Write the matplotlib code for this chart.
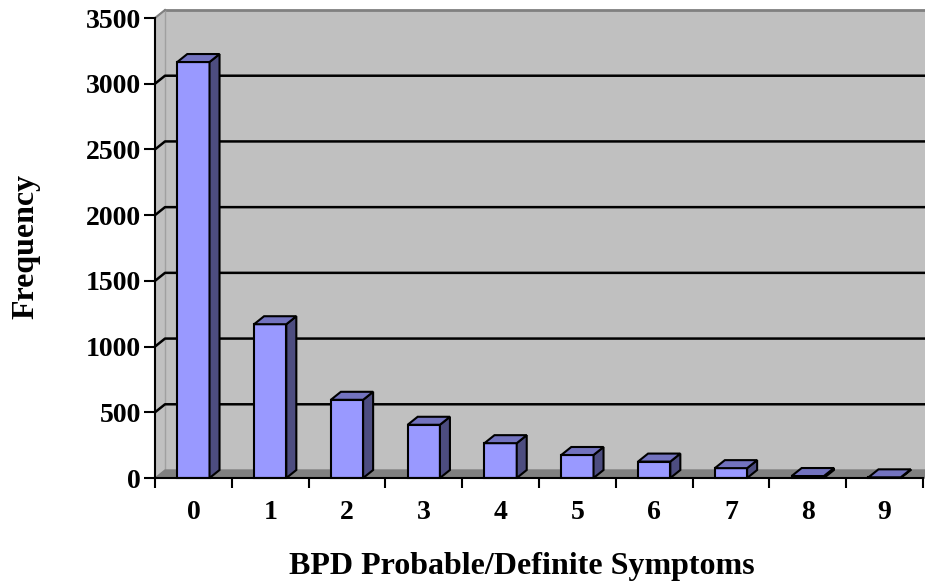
import numpy as np
import matplotlib.pyplot as plt

# ============ DADOS ============
categorias = ['0', '1', '2', '3', '4', '5', '6', '7', '8', '9']
frequencias = [3165, 1170, 595, 405, 265, 175, 125, 75, 15, 5]
yticks = [0, 500, 1000, 1500, 2000, 2500, 3000, 3500]

plt.rcParams['font.family'] = ['Liberation Serif', 'DejaVu Serif']
plt.rcParams['font.weight'] = 'bold'

fig = plt.figure(figsize=(9.25, 5.83), dpi=100)
W, H = 925, 583
x0, x1 = 155, 923
y0, y1 = 478, 18
ax = fig.add_axes([x0 / W, (H - y0) / H, (x1 - x0) / W, (y0 - y1) / H])
ax.set_xlim(0, 10)
ax.set_ylim(0, 3500)

# profundidade (efeito 3D) em unidades de dados
DX = 10 / ((x1 - x0) / 10)
DY = 8 * 3500 / (y0 - y1)

# parede de fundo
wall_top = 3500 + DY
ax.fill([DX, 10 + DX + 0.2, 10 + DX + 0.2, DX], [DY, DY, wall_top, wall_top],
        color='#C0C0C0', zorder=0, clip_on=False)
ax.plot([DX, 10 + DX + 0.2], [wall_top, wall_top], color='#808080', lw=2, zorder=1, clip_on=False)
# parede lateral
ax.fill([0, DX, DX, 0], [0, DY, wall_top, 3500], color='#C0C0C0', zorder=0, clip_on=False)
ax.plot([DX, DX], [DY, wall_top], color='#A0A0A0', lw=1, zorder=1, clip_on=False)
ax.plot([0, DX], [3500, wall_top], color='#808080', lw=1.5, zorder=1, clip_on=False)

# linhas de grade
for v in yticks[1:-1]:
    ax.plot([0, DX, 10 + DX + 0.2], [v, v + DY, v + DY], color='black', lw=1.8,
            zorder=2, clip_on=False)

# piso
ax.fill([0, 10 + 0.2, 10 + DX + 0.2, DX], [0, 0, DY, DY], color='#808080',
        zorder=2, clip_on=False)

# barras 3D
largura = 0.42
for i, v in enumerate(frequencias):
    xl = i + 0.5 - largura / 2
    xr = xl + largura
    ax.fill([xl, xr, xr, xl], [0, 0, v, v], facecolor='#9999FF', edgecolor='black',
            lw=1.5, zorder=3, clip_on=False)
    ax.fill([xr, xr + DX, xr + DX, xr], [0, DY, v + DY, v], facecolor='#4D4D80',
            edgecolor='black', lw=1.5, zorder=3, clip_on=False)
    ax.fill([xl, xr, xr + DX, xl + DX], [v, v, v + DY, v + DY], facecolor='#7373BF',
            edgecolor='black', lw=1.5, zorder=3, clip_on=False)

# eixos
for s in ['top', 'right']:
    ax.spines[s].set_visible(False)
for s in ['left', 'bottom']:
    ax.spines[s].set_linewidth(1.5)
    ax.spines[s].set_zorder(4)
ax.set_facecolor('none')

ax.set_yticks(yticks)
ax.set_yticklabels([str(t) for t in yticks], fontsize=20, fontweight='bold')
ax.set_xticks(np.arange(0, 11))
ax.set_xticklabels([])
ax.set_xticks(np.arange(10) + 0.5, minor=True)
ax.set_xticklabels(categorias, minor=True, fontsize=20, fontweight='bold')
ax.tick_params(axis='x', which='minor', length=0, pad=16)
ax.tick_params(axis='x', which='major', length=7, width=1.5, direction='out')
ax.tick_params(axis='y', length=8, width=1.5, direction='out', pad=2)

fig.text(26 / W, 1 - 246 / H, 'Frequency', rotation=90, ha='center', va='center',
         fontsize=23, fontweight='bold')
fig.text(522 / W, 1 - 574 / H, 'BPD Probable/Definite Symptoms', ha='center', va='baseline',
         fontsize=23, fontweight='bold')

fig.savefig('out.png', dpi=100)
